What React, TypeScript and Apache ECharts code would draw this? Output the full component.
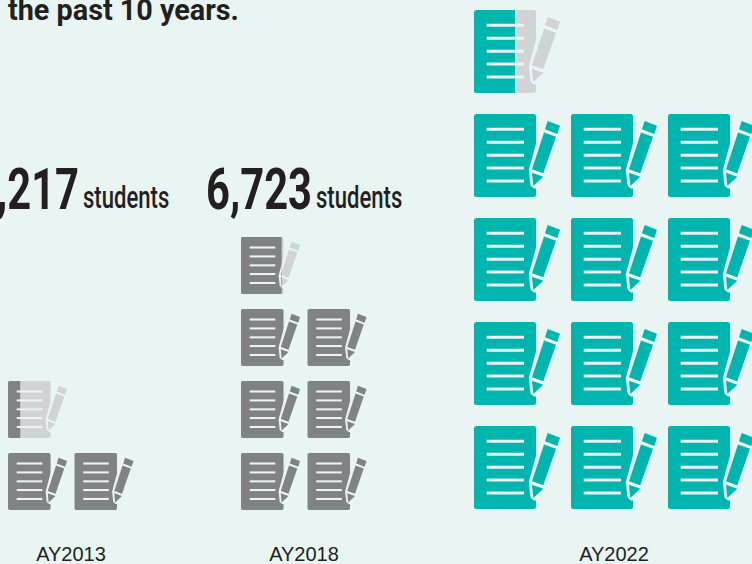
import React, { useEffect, useRef } from "react";
import * as echarts from "echarts";

// Students per academic year; one document icon stands for 1,000 students.
const academicYears = ["AY2013", "AY2018", "AY2022"];
const studentCounts = [2217, 6723, 12500];
const studentsPerIcon = 1000;
const columnsPerYear = [2, 2, 3];
const yearColors = ["#808285", "#808285", "#00B5AD"];
const headline = "the past 10 years.";
const unitLabel = "students";

const PAGE_BG = "#E8F5F3";
const REMAINDER = "#D1D3D4";
const INK = "#231F20";

// Icon outline, drawn on a 97-wide cell.
const DESIGN_CELL = 97;
const PAPER = { x: 0, y: 0, width: 62, height: 83, r: 2.5 };
const RULE_Y = [15.3, 28.3, 41.3, 54, 67];
const ERASER = [[73.7, 7], [86, 11.7], [83.3, 20], [71, 15.3]];
const BODY = [[70, 18.4], [82, 22.7], [69.3, 59.3], [58, 55.3]];
const TIP = [[58, 58.7], [69.3, 62.7], [59.3, 72]];
const HALO = [[66, 15], [73.7, 7], [86, 12], [70, 64], [62.5, 74.5], [60, 74.5], [56.5, 71.5], [54.8, 56]];

function iconLayer(color: string) {
  return [
    { type: "rect", shape: PAPER, style: { fill: color } },
    { type: "polygon", shape: { points: HALO }, style: { fill: PAGE_BG } },
    { type: "polygon", shape: { points: ERASER }, style: { fill: color } },
    { type: "polygon", shape: { points: BODY }, style: { fill: color } },
    { type: "polygon", shape: { points: TIP }, style: { fill: color } },
  ];
}

function iconRules() {
  return RULE_Y.map((y) => ({
    type: "rect",
    shape: { x: 12.7, y: y - 1.5, width: 37.3, height: 3 },
    style: { fill: PAGE_BG },
  }));
}

// Whole icons first, then one partly filled icon for the remainder.
function iconsFor(count: number, columns: number) {
  const ratio = count / studentsPerIcon;
  const whole = Math.floor(ratio);
  const remainder = ratio - whole;
  const items: number[][] = [];
  const total = remainder > 0 ? whole + 1 : whole;
  for (let i = 0; i < total; i++) {
    items.push([i % columns, Math.floor(i / columns), i < whole ? 1 : remainder]);
  }
  return items;
}

const PIXEL_LAYOUT = [
  { left: 8, cellW: 66.5, cellH: 72, floor: 525, labelX: 71 },
  { left: 241, cellW: 66.5, cellH: 72, floor: 525, labelX: 304 },
  { left: 474, cellW: 97, cellH: 104, floor: 530, labelX: 614 },
];
const LABEL_Y = 554;

function buildOption() {
  const grids: any[] = [];
  const xAxes: any[] = [];
  const yAxes: any[] = [];
  const series: any[] = [];

  academicYears.forEach((year, i) => {
    const columns = columnsPerYear[i];
    const items = iconsFor(studentCounts[i], columns);
    const rows = Math.ceil(items.length / columns);
    const box = PIXEL_LAYOUT[i];
    const width = columns * box.cellW;
    const height = rows * box.cellH;
    grids.push({ left: box.left, top: box.floor - height, width, height, containLabel: false, outerBoundsMode: "none" });
    xAxes.push({
      type: "value",
      gridIndex: i,
      min: 0,
      max: columns,
      name: year,
      nameLocation: "middle",
      nameGap: LABEL_Y - box.floor,
      nameTextStyle: {
        fontFamily: "Liberation Sans",
        fontSize: 20,
        color: INK,
        verticalAlign: "middle",
        padding: [0, 2 * (box.left + width / 2 - box.labelX), 0, 0],
      },
      axisLine: { show: false },
      axisTick: { show: false },
      axisLabel: { show: false },
      splitLine: { show: false },
    });
    yAxes.push({
      type: "value",
      gridIndex: i,
      min: 0,
      max: rows,
      axisLine: { show: false },
      axisTick: { show: false },
      axisLabel: { show: false },
      splitLine: { show: false },
    });
    series.push({
      type: "custom",
      xAxisIndex: i,
      yAxisIndex: i,
      clip: false,
      data: items,
      encode: { x: 0, y: 1 },
      renderItem: (_params: any, api: any) => {
        const col = api.value(0);
        const row = api.value(1);
        const filled = api.value(2);
        const [x, y] = api.coord([col, row + 1]);
        const scale = api.size([1, 1])[0] / DESIGN_CELL;
        const color = yearColors[i];
        const children: any[] = [];
        if (filled >= 1) {
          children.push(...iconLayer(color));
        } else {
          children.push(...iconLayer(REMAINDER));
          children.push({
            type: "group",
            clipPath: { type: "rect", shape: { x: 0, y: 0, width: 82 * filled, height: PAPER.height } },
            children: iconLayer(color),
          });
        }
        children.push(...iconRules());
        return { type: "group", x, y, scaleX: scale, scaleY: scale, children };
      },
    });
  });

  const countLabels = [0, 1].flatMap((i) => {
    const left = PIXEL_LAYOUT[i].left - 35;
    return [
      {
        type: "text",
        x: left,
        y: 189,
        scaleX: 0.72,
        style: {
          text: studentCounts[i].toLocaleString("en-US"),
          fontFamily: "Roboto",
          fontWeight: "bold",
          fontSize: 58,
          fill: INK,
          verticalAlign: "middle",
        },
      },
      {
        type: "text",
        x: left + 110,
        y: 197,
        scaleX: 0.69,
        style: {
          text: unitLabel,
          fontFamily: "Roboto",
          fontWeight: 500,
          fontSize: 32,
          fill: INK,
          verticalAlign: "middle",
        },
      },
    ];
  });

  return {
    animation: false,
    backgroundColor: PAGE_BG,
    grid: grids,
    xAxis: xAxes,
    yAxis: yAxes,
    series,
    graphic: {
      elements: [
        {
          type: "text",
          x: 8,
          y: 10,
          scaleX: 0.96,
          style: {
            text: headline,
            fontFamily: "Roboto",
            fontWeight: "bold",
            fontSize: 30,
            fill: INK,
            verticalAlign: "middle",
          },
        },
        ...countLabels,
      ],
    },
  };
}

export default function App() {
  const ref = useRef<HTMLDivElement>(null);
  useEffect(() => {
    document.body.style.margin = "0";
    const chart = echarts.init(ref.current!, undefined, { renderer: "svg" });
    chart.setOption(buildOption() as any);
    return () => chart.dispose();
  }, []);
  return <div ref={ref} style={{ width: 752, height: 564 }} />;
}
